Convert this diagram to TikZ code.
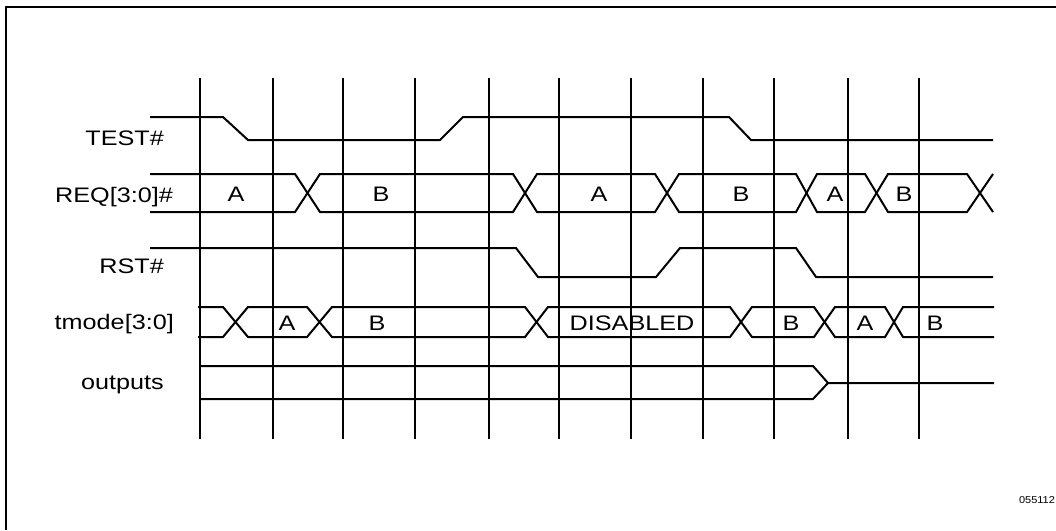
\documentclass[tikz,border=0pt]{standalone}
\usepackage{fontspec}
\newfontfamily\arialish{Liberation Sans}
\newcommand\sxw[1]{\scalebox{1.2}[1]{#1}}
\begin{document}
\begin{tikzpicture}[x=1pt,y=-1pt,
  sig/.style={line width=2pt, line join=miter},
  gridline/.style={line width=2pt},
  framel/.style={line width=2pt},
  lbl/.style={anchor=base east, inner sep=0pt, font=\arialish\fontsize{21}{21}\selectfont},
  val/.style={anchor=base, inner sep=0pt, font=\arialish\fontsize{21}{21}\selectfont},
  tag/.style={anchor=base, inner sep=0pt, font=\arialish\fontsize{10}{10}\selectfont}]
\useasboundingbox (0,0) rectangle (1056,530);
\fill[white] (0,0) rectangle (1056,530);
% frame (top and left)
\draw[framel] (1056,7) -- (6,7) -- (6,530);
% signal names
\node[lbl] (ntest) at (164,145) {\sxw{TEST\#}};
\node[lbl] (nreq) at (173,202) {\sxw{REQ[3:0]\#}};
\node[lbl] (nrst) at (164,273.5) {\sxw{RST\#}};
\node[lbl] (ntmode) at (174,329) {\sxw{tmode[3:0]}};
\node[lbl] (nout) at (164,389) {\sxw{outputs}};
% values REQ
\node[val] (r1) at (236,201.5) {\sxw{A}};
\node[val] (r2) at (381,201.5) {\sxw{B}};
\node[val] (r3) at (599,201.5) {\sxw{A}};
\node[val] (r4) at (741,201.5) {\sxw{B}};
\node[val] (r5) at (835,201.5) {\sxw{A}};
\node[val] (r6) at (904,201.5) {\sxw{B}};
% values tmode
\node[val] (t1) at (287,330) {\sxw{A}};
\node[val] (t2) at (377,330) {\sxw{B}};
\node[val] (t3) at (632,330) {\sxw{DISABLED}};
\node[val] (t4) at (791,330) {\sxw{B}};
\node[val] (t5) at (865,330) {\sxw{A}};
\node[val] (t6) at (935,330) {\sxw{B}};
% figure number
\node[tag] (fig) at (1037,503) {\scalebox{1.1}[1]{055112}};
% vertical clock lines
\foreach \x in {200,273,343,415,489,559,631,703,774,848,919}
  \draw[gridline] (\x,78) -- (\x,439);
% TEST#
\draw[sig] (150,117) -- (223,117) -- (248,140) -- (440,140) -- (463,117) -- (729,117) -- (751,140) -- (993,140);
% REQ[3:0]#
\draw[sig] (150,174) -- (295,174) -- (320,212) -- (513,212) -- (537,174) -- (655,174) -- (679,212) -- (796,212) -- (817,174) -- (865,174) -- (888,212) -- (967,212) -- (993,174);
\draw[sig] (150,212) -- (295,212) -- (320,174) -- (513,174) -- (537,212) -- (655,212) -- (679,174) -- (796,174) -- (817,212) -- (865,212) -- (888,174) -- (967,174) -- (993,212);
% RST#
\draw[sig] (150,248) -- (516,248) -- (538,277) -- (656,277) -- (680,248) -- (796,248) -- (816,277) -- (993,277);
% tmode[3:0]
\draw[sig] (198,307) -- (223,307) -- (248,337) -- (307,337) -- (332,307) -- (525,307) -- (548,337) -- (730,337) -- (752,307) -- (814,307) -- (835,337) -- (885,337) -- (903,307) -- (994,307);
\draw[sig] (198,337) -- (223,337) -- (248,307) -- (307,307) -- (332,337) -- (525,337) -- (548,307) -- (730,307) -- (752,337) -- (814,337) -- (835,307) -- (885,307) -- (903,337) -- (994,337);
% outputs
\draw[sig] (200,366) -- (813,366) -- (828,383) -- (994,383);
\draw[sig] (200,399) -- (813,399) -- (828,383);
\end{tikzpicture}
\end{document}
